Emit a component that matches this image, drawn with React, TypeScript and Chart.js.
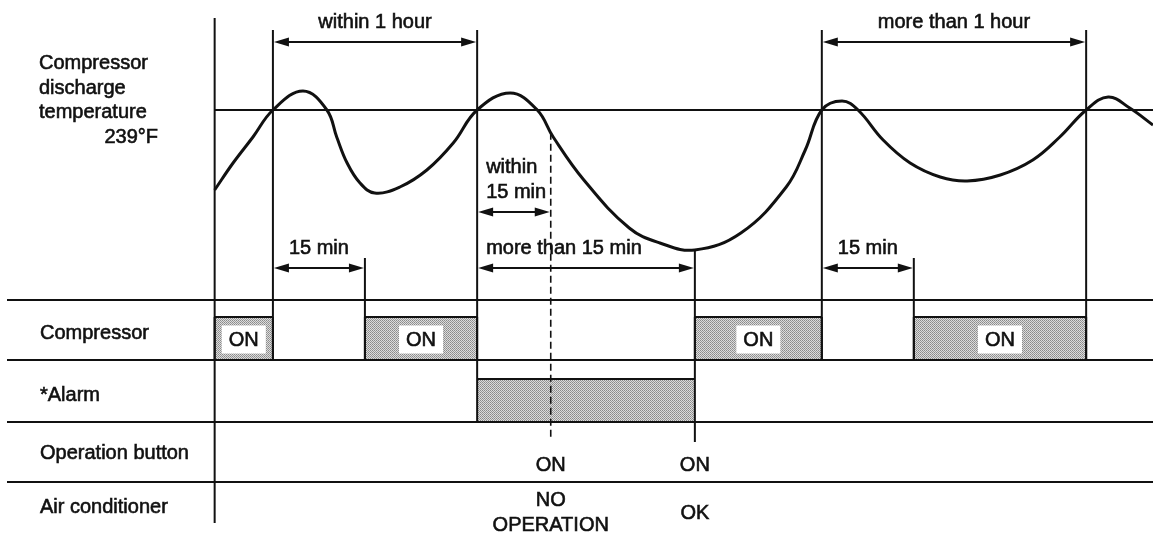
import React, { useEffect, useRef } from 'react';
import { Chart, registerables } from 'chart.js';

Chart.register(...registerables);

// ---- DATA (time in minutes from the left axis, temperature in °F) ----
const curveTime = [0, 3.0, 6.25, 9.5, 14.4, 18.3, 19.9, 21.6, 23.7, 26.1, 30.2, 34.6, 38.9, 42.8, 48.2, 52.6, 55.2, 60.2, 67.6, 72.6, 78.3, 85.8, 93.2, 96.3, 99.0, 102.3, 104.9, 109.0, 113.4, 118.3, 122.7, 128.1, 133.4, 137.8, 142.1, 145.7, 149.2, 153];
const curveTemp = [199, 212.5, 225.5, 239, 248.5, 239, 225.5, 212.5, 202.5, 197.5, 200.5, 209, 222.5, 239, 247.5, 239, 225.5, 204, 180, 172.5, 169, 177.5, 200.5, 219, 239, 243.5, 239, 224, 212.5, 205.5, 203.5, 206.5, 214, 225.5, 239, 245.5, 240, 231.5];

const thresholdTemp = 239;
const timeStart = 0;
const timeEnd = 153;

const crossings = [9.5, 42.8, 99.0, 142.1];
const compressorOn = [[0, 9.5], [24.5, 42.8], [78.3, 99.0], [114, 142.1]];
const compressorText = ['ON', 'ON', 'ON', 'ON'];
const alarmOn = [[42.8, 78.3]];
const buttonPress = [54.8, 78.3];
const buttonText = ['ON', 'ON'];
const acText = [['NO', 'OPERATION'], ['OK']];

const spanFrom = [9.5, 99.0, 42.8, 9.5, 42.8, 99.0];
const spanTo = [42.8, 142.1, 54.8, 24.5, 78.3, 114];
const spanText = [['within 1 hour'], ['more than 1 hour'], ['within', '15 min'], ['15 min'], ['more than 15 min'], ['15 min']];

const axisTitle = ['Compressor', 'discharge', 'temperature'];
const thresholdText = '239°F';
const rowLabels = ['Compressor', '*Alarm', 'Operation button', 'Air conditioner'];

// ---- LAYOUT / STYLE ----
const INK = '#111';
const FONT = '20px "Liberation Sans", Arial, sans-serif';
const L = {
  axisTop: 18,
  axisBottom: 523,
  markerTop: 30,
  rowLines: [300, 360, 422, 482],
  rowLineLeft: 7,
  rowLabelX: 40,
  rowLabelY: [333, 395, 453, 507],
  compTop: 317,
  compBottom: 360,
  alarmTop: 379,
  alarmBottom: 422,
  spanY: [42, 42, 212, 268, 268, 268],
  spanAlign: ['center', 'center', 'left', 'center', 'left', 'center'],
  titleX: 39,
  titleY: [63, 88, 112],
  thresholdTextRight: 158,
  thresholdTextY: 137,
  buttonTextY: 465,
  acTextY: [[500, 525], [513]],
  lineGap: 25,
};

function tempAt(t: number): number {
  for (let i = 0; i < curveTime.length - 1; i++) {
    if (t >= curveTime[i] && t <= curveTime[i + 1]) {
      const f = (t - curveTime[i]) / (curveTime[i + 1] - curveTime[i]);
      return curveTemp[i] + f * (curveTemp[i + 1] - curveTemp[i]);
    }
  }
  return curveTemp[curveTemp.length - 1];
}

function arrowHead(ctx: CanvasRenderingContext2D, x: number, y: number, dir: number) {
  const len = 15;
  const hw = 4.5;
  ctx.beginPath();
  ctx.moveTo(x, y);
  ctx.lineTo(x - dir * len, y - hw);
  ctx.lineTo(x - dir * len, y + hw);
  ctx.closePath();
  ctx.fill();
}

function text(ctx: CanvasRenderingContext2D, s: string, x: number, y: number) {
  ctx.fillText(s, x, y);
  ctx.lineWidth = 0.6;
  ctx.strokeText(s, x, y);
}

export default function App() {
  const ref = useRef<HTMLCanvasElement | null>(null);

  useEffect(() => {
    const canvas = ref.current;
    if (!canvas) return;

    const pc = document.createElement('canvas');
    pc.width = 2;
    pc.height = 2;
    const pctx = pc.getContext('2d')!;
    pctx.fillStyle = '#dcdcdc';
    pctx.fillRect(0, 0, 2, 2);
    pctx.fillStyle = '#8a8a8a';
    pctx.fillRect(0, 0, 1, 1);
    pctx.fillStyle = '#9a9a9a';
    pctx.fillRect(1, 1, 1, 1);

    const diagram = {
      id: 'timingDiagram',
      afterDatasetsDraw(chart: any) {
        const ctx: CanvasRenderingContext2D = chart.ctx;
        const xs = chart.scales.x;
        const ys = chart.scales.y;
        const X = (t: number) => xs.getPixelForValue(t);
        const W = chart.width;
        const pattern = ctx.createPattern(pc, 'repeat');
        ctx.save();
        ctx.strokeStyle = INK;
        ctx.fillStyle = INK;
        ctx.lineCap = 'butt';

        const vline = (x: number, y0: number, y1: number, w = 2) => {
          ctx.lineWidth = w;
          ctx.beginPath();
          ctx.moveTo(x, y0);
          ctx.lineTo(x, y1);
          ctx.stroke();
        };
        const hline = (x0: number, x1: number, y: number, w = 2) => {
          ctx.lineWidth = w;
          ctx.beginPath();
          ctx.moveTo(x0, y);
          ctx.lineTo(x1, y);
          ctx.stroke();
        };

        // boxes (compressor ON)
        compressorOn.forEach(([a, b], i) => {
          const x0 = X(a), x1 = X(b);
          ctx.fillStyle = pattern || '#bbb';
          ctx.fillRect(x0, L.compTop, x1 - x0, L.compBottom - L.compTop);
          hline(x0, x1, L.compTop);
          vline(x0, L.compTop, L.compBottom);
          vline(x1, L.compTop, L.compBottom);
          const cx = (x0 + x1) / 2;
          const cy = (L.compTop + L.compBottom) / 2 + 1;
          ctx.fillStyle = '#fff';
          ctx.fillRect(cx - 22, cy - 14, 44, 28);
          ctx.fillStyle = INK;
          ctx.font = FONT;
          ctx.textAlign = 'center';
          ctx.textBaseline = 'middle';
          text(ctx, compressorText[i], cx, cy + 1);
        });

        // alarm box
        alarmOn.forEach(([a, b]) => {
          const x0 = X(a), x1 = X(b);
          ctx.fillStyle = pattern || '#bbb';
          ctx.fillRect(x0, L.alarmTop, x1 - x0, L.alarmBottom - L.alarmTop);
          hline(x0, x1, L.alarmTop);
        });
        ctx.fillStyle = INK;

        // row lines
        L.rowLines.forEach((y) => hline(L.rowLineLeft, W, y));

        // left axis
        vline(X(timeStart), L.axisTop, L.axisBottom);

        // crossing verticals
        crossings.forEach((t) => {
          const isAlarmStart = alarmOn.some(([a]) => a === t);
          vline(X(t), L.markerTop, isAlarmStart ? L.alarmBottom : L.compBottom);
        });
        // 15 min compressor restart verticals
        [compressorOn[1][0], compressorOn[3][0]].forEach((t, i) => {
          vline(X(t), L.spanY[i === 0 ? 3 : 5] - 10, L.compBottom);
        });
        // button press verticals
        buttonPress.forEach((t, i) => {
          const y0 = ys.getPixelForValue(tempAt(t));
          if (i === 0) {
            ctx.setLineDash([7, 4]);
            vline(X(t), y0, 440, 1.6);
            ctx.setLineDash([]);
          } else {
            vline(X(t), y0, 442);
          }
        });

        // spans with arrows
        ctx.font = FONT;
        ctx.textBaseline = 'middle';
        spanFrom.forEach((a, i) => {
          const x0 = X(a), x1 = X(spanTo[i]);
          const y = L.spanY[i];
          hline(x0 + 6, x1 - 6, y);
          arrowHead(ctx, x0 + 1, y, -1);
          arrowHead(ctx, x1 - 1, y, 1);
          const lines = spanText[i];
          const align = L.spanAlign[i] as CanvasTextAlign;
          ctx.textAlign = align;
          const tx = align === 'center' ? (x0 + x1) / 2 : x0 + 9;
          lines.forEach((s, k) => {
            const ty = y - 20 - (lines.length - 1 - k) * L.lineGap;
            text(ctx, s, tx, ty);
          });
        });

        // axis title
        ctx.textAlign = 'left';
        axisTitle.forEach((s, k) => text(ctx, s, L.titleX, L.titleY[k]));
        ctx.textAlign = 'right';
        text(ctx, thresholdText, L.thresholdTextRight, L.thresholdTextY);

        // row labels
        ctx.textAlign = 'left';
        rowLabels.forEach((s, k) => text(ctx, s, L.rowLabelX, L.rowLabelY[k]));

        // button and air conditioner texts
        ctx.textAlign = 'center';
        buttonPress.forEach((t, i) => {
          text(ctx, buttonText[i], X(t), L.buttonTextY);
          acText[i].forEach((s, k) => text(ctx, s, X(t), L.acTextY[i][k]));
        });

        ctx.restore();
      },
    };

    const chart = new Chart(canvas, {
      type: 'line',
      data: {
        datasets: [
          {
            label: 'Compressor discharge temperature',
            data: curveTime.map((t, i) => ({ x: t, y: curveTemp[i] })),
            borderColor: INK,
            borderWidth: 3,
            pointRadius: 0,
            tension: 0.4,
            fill: false,
          },
          {
            label: '239°F',
            data: [
              { x: timeStart, y: thresholdTemp },
              { x: timeEnd, y: thresholdTemp },
            ],
            borderColor: INK,
            borderWidth: 2,
            pointRadius: 0,
            fill: false,
          },
        ],
      },
      options: {
        animation: false,
        responsive: true,
        maintainAspectRatio: false,
        devicePixelRatio: 1,
        layout: { autoPadding: false, padding: 0 },
        events: [],
        plugins: {
          legend: { display: false },
          tooltip: { enabled: false },
          title: { display: false },
        },
        scales: {
          x: { type: 'linear', min: -35, max: 153, display: false },
          y: { type: 'linear', min: 26.5, max: 294, display: false },
        },
      },
      plugins: [diagram],
    } as any);

    return () => chart.destroy();
  }, []);

  return (
    <div style={{ position: 'absolute', left: 0, top: 0, width: 1153, height: 535, background: '#fff' }}>
      <canvas ref={ref} />
    </div>
  );
}
